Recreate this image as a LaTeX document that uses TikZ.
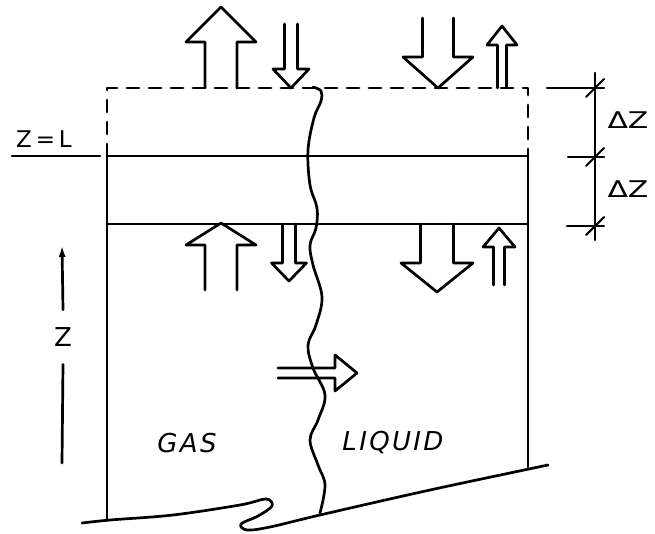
\documentclass[tikz,border=0pt]{standalone}
\usepackage{fontspec}
\usepackage{graphicx}
\newfontfamily\hand{DejaVu Sans}
\usetikzlibrary{arrows.meta}

\tikzset{
  openedge/.style={dash pattern=on 12pt off 10pt},
  tag/.style={inner sep=0pt, font=\hand\fontsize{23}{26}\selectfont},
  phase/.style={inner sep=0pt, font=\hand\itshape\fontsize{26}{30}\selectfont\addfontfeature{LetterSpace=9}},
  dimline/.style={line width=2.1pt}
}

% open block arrow: x centre, tail y, head base y, tip y, half shaft, half head
\newcommand{\blockarrow}[6]{%
  \draw ({#1-#5},#2) -- ({#1-#5},#3) -- ({#1-#6},#3) -- (#1,#4) --
        ({#1+#6},#3) -- ({#1+#5},#3) -- ({#1+#5},#2);}

\begin{document}
\begin{tikzpicture}[x=1pt, y=-1pt, line width=2.7pt, line join=round, line cap=round]
\useasboundingbox (0,0) rectangle (655,533);

% Granice kolumny
\def\xL{107}
\def\xR{528}
\def\yTop{88}
\def\yL{156}
\def\yB{224}

% ---------- Column walls ----------
\draw[openedge] (\xL,\yL) -- (\xL,\yTop) -- (\xR,\yTop) -- (\xR,\yL);
\draw (\xL,\yL) -- (\xL,520);
\draw (\xR,\yL) -- (\xR,467);
\draw (\xL,\yL) -- (\xR,\yL);
\draw (\xL,\yB) -- (\xR,\yB);

% ---------- Broken bottom ----------
\draw plot[smooth, tension=0.55] coordinates {(82,523) (110,520) (173,515) (240,505)
  (266,499) (272,506) (258,516) (241,524) (247,530) (270,527) (320,515) (430,490)
  (548,465)};

% ---------- Gas-liquid interface ----------
\draw plot[smooth, tension=0.6] coordinates {(313,87) (321,91) (321,101) (314,118)
  (308,150) (310,185) (317,208) (316,228) (310,245) (313,265) (322,297) (316,325)
  (308,345) (313,368) (325,395) (318,420) (310,440) (318,465) (325,485) (320,513)};

% ---------- Flows through the top ----------
\blockarrow{221}{88}{42}{7}{16}{35}
\blockarrow{291}{24}{69}{88}{6.5}{18}
\blockarrow{438}{18}{57}{88}{15.5}{35}
\blockarrow{502}{88}{45}{26}{4.5}{15}

% ---------- Flows through the bottom ----------
\blockarrow{221}{290}{245}{223}{16}{35}
\blockarrow{289}{224}{263}{281}{6.5}{17.5}
\blockarrow{437}{224}{263}{292}{16.5}{36}
\blockarrow{499}{285}{247}{228}{5.5}{16}

% ---------- Transfer across the interface ----------
\draw (278,368) -- (335,368) -- (335,355) -- (357,373) -- (335,391) -- (335,378) -- (278,378);

% ---------- Level Z = L ----------
\node[tag] (zl) at (44,139) {Z\,=\,L};
\draw[line width=2.2pt] (12,156) -- (100,156);

% ---------- Z axis ----------
\coordinate (ztip) at (62,245);
\coordinate (zend) at (62,463);
\node[tag, font=\hand\fontsize{26}{30}\selectfont, minimum height=52pt] (zz) at (63,337) {Z};
\draw[-{Latex[length=12pt,width=7pt]}] (zz.north) -- (ztip);
\draw (zz.south) -- (zend);

% ---------- Dimensions ----------
\draw[dimline] (595,73) -- (595,240);
\foreach \y/\xa in {88/547, 157/568, 226/567} {
  \draw[dimline] (\xa,\y) -- (604,\y);
  \draw[dimline] (586,\y+9) -- (604,\y-9);
}
\node[tag] (dz1) at (628,120) {\scalebox{1.3}[1]{ΔZ}};
\node[tag] (dz2) at (628,189) {\scalebox{1.3}[1]{ΔZ}};

% ---------- Phases ----------
\node[phase] (gas) at (187,443) {GAS};
\node[phase] (liquid) at (393,443) {LIQUID};

\end{tikzpicture}
\end{document}
